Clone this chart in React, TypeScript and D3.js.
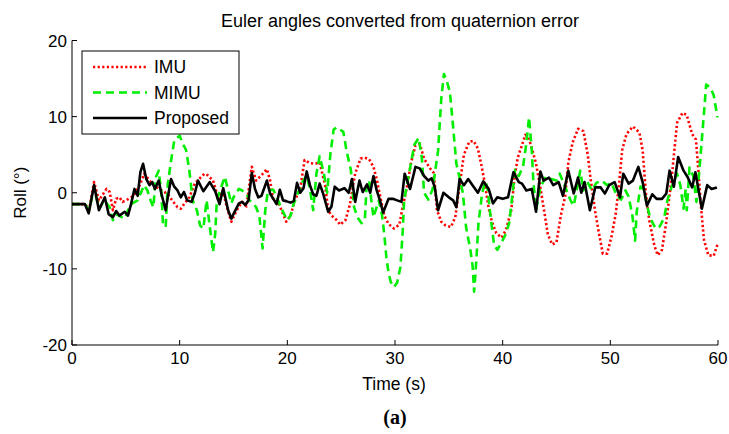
import React from "react";
import * as d3 from "d3";

const xTicks = [0, 10, 20, 30, 40, 50, 60];
const yTicks = [-20, -10, 0, 10, 20];
const seriesNames = ["IMU", "MIMU", "Proposed"];

const imuTime = [0,1.2,1.6,2.05,2.5,3.2,3.5,3.8,4.1,4.4,4.7,5.0,5.5,5.8,6.3,6.7,7.2,7.6,8.1,8.6,9.0,9.3,9.8,10.1,10.4,10.9,11.4,11.8,12.3,12.6,13.1,13.6,14.0,14.5,14.8,15.3,15.8,16.2,16.7,17.1,17.6,18.1,18.4,18.7,19.2,19.6,19.9,20.3,20.7,21.2,21.6,22.1,22.6,23.0,23.5,23.8,24.1,24.6,24.9,25.4,25.8,26.3,26.8,27.2,27.6,28.0,28.3,28.7,29.0,29.4,29.9,30.4,30.7,31.1,31.5,31.9,32.3,32.7,33.2,33.6,33.9,34.3,34.7,35.2,35.6,36.0,36.4,36.9,37.3,37.7,38.0,38.3,38.7,39.0,39.4,39.9,40.3,40.8,41.1,41.4,41.8,42.1,42.4,42.8,43.1,43.5,43.9,44.2,44.6,45.0,45.4,45.8,46.1,46.5,47.0,47.5,47.9,48.2,48.6,48.9,49.3,49.7,50.1,50.5,50.8,51.1,51.5,52.1,52.7,53.0,53.3,53.6,54.1,54.4,54.8,55.2,55.7,56.2,56.7,57.1,57.6,57.95,58.2,58.4,58.7,59.1,59.6,59.9,60.0];
const imuRoll = [-1.5,-1.5,-2.2,1.4,-1.0,0.5,0.1,-2.3,-0.8,-0.6,-1.2,-1.0,-0.6,-0.2,1.0,2.5,1.6,1.0,0.5,0.1,-0.4,-1.0,-1.9,-2.1,-1.5,-0.6,1.2,1.8,2.5,2.3,1.6,-0.8,0.3,-2.5,-3.8,-2.3,-1.2,-1.8,3.4,1.6,2.3,3.1,1.6,-1.0,-1.4,-2.8,-3.8,-3.0,-1.0,0.5,4.3,3.9,3.8,4.0,1.0,-2.3,-3.0,-3.6,-4.2,-3.6,-1.6,2.5,4.5,4.6,4.4,3.4,1.8,-1.0,-3.0,-4.1,-4.7,-4.2,-2.0,0.7,4.0,6.2,6.4,4.5,3.3,2.6,-2.3,-3.8,-4.3,-4.5,-3.2,1.0,5.0,6.7,6.8,5.8,3.8,1.6,-2.0,-3.8,-5.3,-5.9,-4.9,-2.3,2.0,4.6,6.3,7.6,7.3,5.4,3.8,0.7,-2.8,-5.5,-6.8,-6.5,-3.0,-0.5,4.0,6.6,8.4,8.1,5.0,1.4,-2.5,-5.0,-8.0,-8.0,-5.8,-2.8,1.0,5.6,7.7,8.7,7.9,5.6,0.0,-3.5,-7.0,-8.2,-7.5,-3.8,2.0,9.2,10.5,10.2,7.7,7.0,2.5,-1.5,-6.2,-8.2,-8.3,-7.0,-6.8];

const mimuTime = [0,1.2,1.6,2.05,2.5,3.0,3.5,3.8,4.1,4.6,4.9,5.2,5.6,6.1,6.4,6.7,7.0,7.3,7.55,7.8,8.05,8.3,8.45,8.7,8.9,9.2,9.5,10.0,10.3,10.6,10.9,11.2,11.6,11.9,12.2,12.5,12.8,13.1,13.3,13.45,13.8,14.2,14.5,14.8,15.0,15.5,15.8,16.2,16.5,16.8,17.1,17.4,17.7,17.95,18.2,18.7,19.2,19.6,20.0,20.3,20.6,21.0,21.4,21.8,22.1,22.4,22.7,23.0,23.4,23.7,24.0,24.3,24.6,25.2,25.5,25.9,26.2,26.5,26.9,27.2,27.35,27.6,27.8,28.0,28.5,28.8,29.0,29.2,29.4,29.6,29.9,30.2,30.5,30.7,30.85,31.3,31.8,32.2,32.5,32.7,33.1,33.5,34.0,34.3,34.55,34.85,35.1,35.4,35.7,36.0,36.3,36.6,37.0,37.2,37.35,37.55,37.75,38.1,38.4,38.6,38.85,39.2,39.5,39.9,40.3,40.6,40.85,41.15,41.5,41.9,42.2,42.45,42.7,42.85,43.1,43.5,44.0,44.5,45.0,45.3,45.8,46.3,46.6,46.9,47.2,47.5,47.8,48.3,48.7,49.2,49.7,50.1,50.6,51.0,51.4,51.7,52.05,52.3,52.45,52.8,53.1,53.4,53.7,54.2,54.6,55.0,55.3,55.7,56.2,56.5,56.8,57.0,57.1,57.35,57.7,58.0,58.3,58.5,58.7,58.9,59.3,59.6,59.95];
const mimuRoll = [-1.5,-1.5,-2.3,0.7,-2.1,-1.0,-1.9,-3.6,-2.8,-3.2,-3.4,-2.3,-1.4,-1.0,0.0,1.0,0.3,-1.0,-1.9,2.1,2.9,0.0,-4.1,-4.5,1.2,4.2,6.9,7.5,6.4,5.6,2.9,-1.0,-2.3,-4.3,-4.7,-1.0,-4.5,-7.8,-5.4,-1.0,0.5,2.1,0.3,-1.4,-0.6,0.5,0.3,-0.1,-1.0,-1.4,-1.9,-3.0,-7.3,-2.3,0.3,0.4,-1.2,-2.5,-3.6,-3.0,-1.4,0.0,1.4,2.3,0.5,-2.3,2.5,4.8,2.5,0.0,5.1,8.3,8.6,8.0,5.5,3.0,-1.9,-3.2,-4.0,-3.5,0.5,1.6,-1.0,-3.2,-1.0,-3.0,-5.4,-8.5,-10.5,-11.7,-12.4,-11.8,-9.8,-5.5,-1.0,2.5,6.3,7.2,4.5,0.0,-0.9,0.5,5.5,12.4,15.6,14.5,13.2,8.6,3.8,2.0,0.0,-4.5,-7.5,-9.5,-13.0,-9.0,-4.0,0.0,1.5,0.5,-2.8,-6.8,-7.5,-6.5,-5.4,-4.0,-1.0,3.0,2.2,3.5,6.5,9.9,5.6,1.5,-2.3,0.7,2.1,1.8,1.6,2.5,0.8,-1.0,-1.7,0.5,2.9,0.3,1.6,0.3,1.3,1.6,1.0,1.3,-0.4,-0.9,0.3,-0.5,-3.0,-6.3,-2.5,0.8,0.5,-1.6,-3.3,-4.7,-4.4,-3.3,-1.0,0.8,2.5,1.0,-2.1,0.5,-2.3,3.3,2.2,-1.2,3.5,7.0,10.5,14.2,13.8,12.8,9.9];

const proposedTime = [0,1.2,1.55,2.05,2.5,3.05,3.4,3.8,4.1,4.4,4.9,5.2,5.5,5.8,6.1,6.35,6.6,6.9,7.2,7.45,7.7,8.05,8.3,8.7,8.9,9.2,9.5,9.8,10.1,10.4,10.7,11.1,11.4,11.7,12.2,12.8,13.3,13.7,14.05,14.5,14.8,15.1,15.5,15.8,16.1,16.4,16.7,17.0,17.3,17.6,18.1,18.4,18.7,19.0,19.3,19.6,19.9,20.3,20.6,20.9,21.2,21.5,21.8,22.1,22.4,22.7,23.0,23.3,23.8,24.1,24.4,24.8,25.3,25.7,26.0,26.3,26.7,27.0,27.4,27.7,28.0,28.3,28.6,28.9,29.4,29.8,30.2,30.6,30.9,31.4,31.9,32.3,32.7,33.1,33.4,33.7,34.0,34.5,35.0,35.4,35.7,36.0,36.4,36.8,37.2,37.7,38.2,38.7,39.1,39.5,40.0,40.5,41.0,41.5,41.8,42.2,42.7,43.1,43.5,43.8,44.3,44.7,45.2,45.6,46.1,46.6,47.0,47.3,47.6,48.1,48.6,49.1,49.5,49.9,50.4,50.9,51.2,51.7,52.1,52.6,53.0,53.4,53.9,54.3,54.8,55.2,55.5,55.9,56.3,56.8,57.2,57.6,57.9,58.5,59.0,59.4,59.9];
const proposedRoll = [-1.5,-1.5,-2.7,1.0,-2.3,-0.6,-2.8,-3.2,-2.4,-3.0,-2.5,-3.0,-1.4,0.5,-0.4,2.7,3.8,1.8,1.0,1.4,0.5,1.6,-0.1,-2.3,-0.6,1.8,0.8,0.3,-0.6,0.1,-1.0,-1.2,-0.1,1.6,0.2,1.4,0.2,-1.5,0.6,-2.3,-3.4,-2.5,-1.4,-1.2,-1.6,-1.0,2.6,0.5,-0.6,-0.4,1.6,-0.1,-0.8,-1.5,0.4,-1.0,-1.1,-1.3,-1.1,1.3,0.0,0.6,2.8,1.0,-0.2,-0.4,1.2,0.0,-2.5,-1.8,0.8,0.3,0.6,0.0,1.8,-1.2,1.6,0.1,1.1,0.0,2.2,0.3,-1.0,-2.6,-0.8,-0.8,-1.0,-1.2,2.5,0.5,3.4,3.2,2.2,1.6,1.9,0.7,-2.3,0.0,-0.6,-1.0,-1.9,1.8,1.0,1.8,1.0,0.0,1.5,0.5,-1.4,-0.6,-0.8,-0.6,2.7,1.4,1.2,0.3,0.5,-2.5,2.8,1.6,2.0,1.0,1.4,-0.4,2.9,-0.1,2.0,0.0,1.4,-2.3,0.7,0.7,-0.1,1.0,1.4,-0.6,2.5,1.2,1.6,3.4,1.4,-1.7,-0.2,-0.8,-0.8,-0.1,2.9,0.8,4.7,2.9,2.0,0.7,2.7,-2.1,1.0,0.5,0.7];

const W = 729;
const H = 434;
const margin = { left: 72, right: 11, top: 40.5, bottom: 89 };

export default function App() {
  const x = d3.scaleLinear().domain([0, 60]).range([margin.left, W - margin.right]);
  const y = d3.scaleLinear().domain([-20, 20]).range([H - margin.bottom, margin.top]);

  const zip = (t: number[], v: number[]) => t.map((tt, i) => [tt, v[i]] as [number, number]);
  const line = d3.line<[number, number]>().x((d) => x(d[0])).y((d) => y(d[1]));

  const series = [
    { name: seriesNames[0], data: zip(imuTime, imuRoll), color: "#ff0000", dash: "2.2,2.4", width: 2.6 },
    { name: seriesNames[1], data: zip(mimuTime, mimuRoll), color: "#00ee00", dash: "8,5", width: 2.6 },
    { name: seriesNames[2], data: zip(proposedTime, proposedRoll), color: "#000000", dash: null as string | null, width: 2.6 },
  ];

  const x0 = x(0), x1 = x(60), yb = y(-20), yt = y(20);
  const font = "'Liberation Sans', Arial, sans-serif";

  return (
    <svg width={W} height={H} style={{ position: "absolute", left: 0, top: 0, background: "#fff" }}>
      <rect x={0} y={0} width={W} height={H} fill="#fff" />
      <text x={400} y={27} textAnchor="middle" fontFamily={font} fontSize={18}>
        Euler angles converted from quaternion error
      </text>

      {series.map((s) => (
        <path
          key={s.name}
          d={line(s.data) || ""}
          fill="none"
          stroke={s.color}
          strokeWidth={s.width}
          strokeDasharray={s.dash || undefined}
          strokeLinejoin="round"
        />
      ))}

      {/* axes */}
      <line x1={x0} x2={x0} y1={yt} y2={yb} stroke="#000" strokeWidth={1} />
      <line x1={x0} x2={x1} y1={yb} y2={yb} stroke="#000" strokeWidth={1} />
      {yTicks.map((t) => (
        <g key={"y" + t}>
          <line x1={x0} x2={x0 + 5} y1={y(t)} y2={y(t)} stroke="#000" strokeWidth={1} />
          <text x={x0 - 5} y={y(t) + 6} textAnchor="end" fontFamily={font} fontSize={17}>
            {t}
          </text>
        </g>
      ))}
      {xTicks.map((t) => (
        <g key={"x" + t}>
          <line x1={x(t)} x2={x(t)} y1={yb} y2={yb - 5} stroke="#000" strokeWidth={1} />
          <text x={x(t)} y={yb + 19} textAnchor="middle" fontFamily={font} fontSize={17}>
            {t}
          </text>
        </g>
      ))}

      <text x={394} y={390} textAnchor="middle" fontFamily={font} fontSize={17.5}>
        Time (s)
      </text>
      <text
        transform={`translate(26, ${y(0)}) rotate(-90)`}
        textAnchor="middle"
        fontFamily={font}
        fontSize={17}
      >
        Roll (°)
      </text>
      <text x={395} y={424} textAnchor="middle" fontFamily="'Liberation Serif', 'DejaVu Serif', serif" fontWeight="bold" fontSize={20}>
        (a)
      </text>

      {/* legend */}
      <rect x={82} y={51} width={157} height={83} fill="#fff" stroke="#000" strokeWidth={1} />
      {series.map((s, i) => (
        <g key={"lg" + s.name}>
          <line
            x1={93}
            x2={147}
            y1={67 + i * 25.5}
            y2={67 + i * 25.5}
            stroke={s.color}
            strokeWidth={s.width}
            strokeDasharray={s.dash || undefined}
          />
          <text x={154} y={67 + i * 25.5 + 6} fontFamily={font} fontSize={17.5}>
            {s.name}
          </text>
        </g>
      ))}
    </svg>
  );
}
